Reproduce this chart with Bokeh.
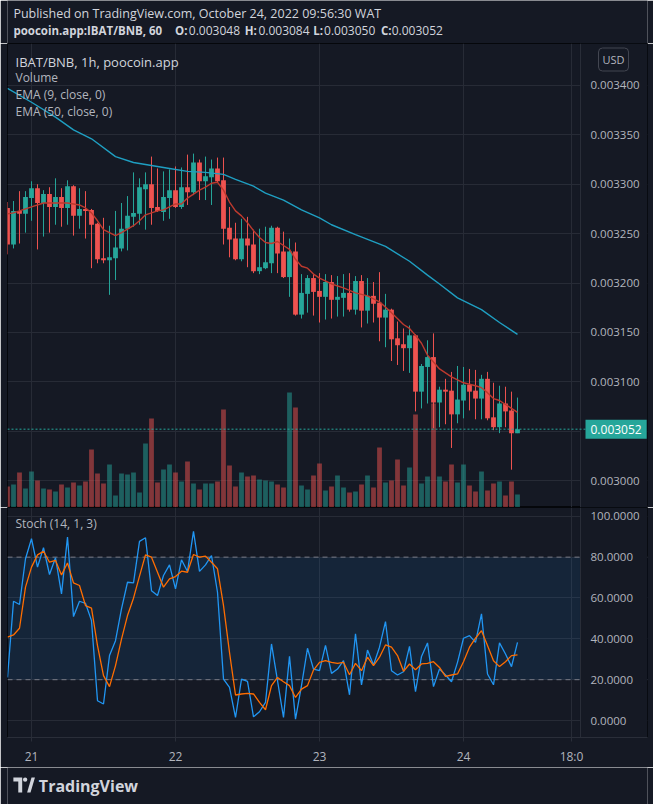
from bokeh.plotting import figure
from bokeh.models import (Range1d, FixedTicker, NumeralTickFormatter, Label, Span,
                          BoxAnnotation, ColumnDataSource)
from bokeh.layouts import column
from bokeh.embed import file_html
from bokeh.resources import INLINE
from bokeh.core.properties import value

FONT = "Open Sans"
BG = "#151924"
TXT = "#b2b5be"
TXT_HI = "#d1d4dc"
GRID_C = "#272b36"
SEP_C = "#2a2e39"
BORDER_C = "#05070b"
UP = "#26a69a"
DOWN = "#ef5350"
EMA9_C = "#bd3a2e"
EMA50_C = "#1f9fc2"
K_C = "#2196f3"
D_C = "#ff6d00"

# ---------------- data (hours since 21 Oct 2022 00:00) ----------------
hours = list(range(-4, 82))

opens = [0.003276, 0.003239, 0.003273, 0.003270, 0.003286, 0.003296, 0.003281, 0.003290, 0.003277, 0.003287,
         0.003276, 0.003298, 0.003268, 0.003275, 0.003274, 0.003260, 0.003225, 0.003223, 0.003225, 0.003235,
         0.003255, 0.003267, 0.003270, 0.003295, 0.003300, 0.003277, 0.003272, 0.003286, 0.003294, 0.003277,
         0.003297, 0.003292, 0.003322, 0.003303, 0.003307, 0.003316, 0.003304, 0.003256, 0.003245, 0.003224,
         0.003245, 0.003239, 0.003212, 0.003215, 0.003220, 0.003256, 0.003232, 0.003206, 0.003232, 0.003168,
         0.003189, 0.003205, 0.003192, 0.003186, 0.003201, 0.003183, 0.003185, 0.003190, 0.003173, 0.003202,
         0.003172, 0.003187, 0.003180, 0.003165, 0.003173, 0.003144, 0.003138, 0.003134, 0.003147, 0.003090,
         0.003115, 0.003125, 0.003079, 0.003092, 0.003091, 0.003067, 0.003081, 0.003097, 0.003091, 0.003083,
         0.003103, 0.003064, 0.003054, 0.003078, 0.003071, 0.003048]
highs = [0.003282, 0.003283, 0.003293, 0.003293, 0.003303, 0.003300, 0.003294, 0.003297, 0.003306, 0.003296,
         0.003304, 0.003299, 0.003296, 0.003293, 0.003275, 0.003261, 0.003266, 0.003258, 0.003273, 0.003281,
         0.003288, 0.003312, 0.003306, 0.003312, 0.003328, 0.003316, 0.003313, 0.003315, 0.003318, 0.003317,
         0.003330, 0.003331, 0.003325, 0.003328, 0.003325, 0.003327, 0.003327, 0.003277, 0.003261, 0.003265,
         0.003267, 0.003254, 0.003255, 0.003257, 0.003258, 0.003257, 0.003252, 0.003245, 0.003241, 0.003209,
         0.003208, 0.003209, 0.003210, 0.003209, 0.003208, 0.003207, 0.003209, 0.003210, 0.003207, 0.003208,
         0.003205, 0.003201, 0.003211, 0.003189, 0.003174, 0.003161, 0.003154, 0.003157, 0.003148, 0.003118,
         0.003142, 0.003149, 0.003095, 0.003103, 0.003110, 0.003116, 0.003115, 0.003113, 0.003112, 0.003107,
         0.003110, 0.003099, 0.003096, 0.003095, 0.003090, 0.003084]
lows = [0.003229, 0.003235, 0.003240, 0.003251, 0.003263, 0.003234, 0.003247, 0.003251, 0.003259, 0.003257,
        0.003259, 0.003248, 0.003255, 0.003245, 0.003215, 0.003220, 0.003220, 0.003188, 0.003203, 0.003232,
        0.003233, 0.003257, 0.003259, 0.003254, 0.003259, 0.003272, 0.003263, 0.003265, 0.003276, 0.003275,
        0.003279, 0.003289, 0.003284, 0.003284, 0.003279, 0.003302, 0.003239, 0.003226, 0.003223, 0.003222,
        0.003216, 0.003210, 0.003209, 0.003214, 0.003210, 0.003210, 0.003205, 0.003186, 0.003167, 0.003164,
        0.003170, 0.003167, 0.003160, 0.003163, 0.003164, 0.003166, 0.003166, 0.003171, 0.003168, 0.003155,
        0.003159, 0.003160, 0.003141, 0.003135, 0.003121, 0.003117, 0.003111, 0.003109, 0.003070, 0.003073,
        0.003078, 0.003053, 0.003054, 0.003057, 0.003033, 0.003058, 0.003063, 0.003071, 0.003062, 0.003062,
        0.003061, 0.003051, 0.003048, 0.003054, 0.003011, 0.003048]
closes = [0.003239, 0.003273, 0.003270, 0.003287, 0.003296, 0.003281, 0.003290, 0.003277, 0.003287, 0.003276,
          0.003298, 0.003268, 0.003275, 0.003273, 0.003259, 0.003224, 0.003223, 0.003226, 0.003236, 0.003255,
          0.003268, 0.003271, 0.003297, 0.003300, 0.003276, 0.003273, 0.003287, 0.003294, 0.003277, 0.003297,
          0.003292, 0.003322, 0.003303, 0.003308, 0.003316, 0.003303, 0.003255, 0.003244, 0.003224, 0.003245,
          0.003238, 0.003212, 0.003216, 0.003221, 0.003256, 0.003230, 0.003206, 0.003232, 0.003168, 0.003190,
          0.003205, 0.003191, 0.003186, 0.003201, 0.003183, 0.003186, 0.003190, 0.003173, 0.003202, 0.003172,
          0.003187, 0.003179, 0.003165, 0.003173, 0.003143, 0.003137, 0.003134, 0.003147, 0.003090, 0.003116,
          0.003125, 0.003079, 0.003092, 0.003090, 0.003067, 0.003082, 0.003097, 0.003090, 0.003083, 0.003103,
          0.003063, 0.003054, 0.003078, 0.003070, 0.003048, 0.003052]
volumes = [21, 23, 35, 19, 36, 27, 19, 18, 16, 23,
           20, 25, 22, 26, 58, 34, 24, 43, 12, 34,
           33, 35, 15, 64, 89, 25, 38, 43, 35, 26,
           46, 24, 18, 24, 24, 26, 98, 42, 21, 35,
           31, 32, 28, 27, 26, 23, 20, 115, 100, 22,
           18, 32, 44, 17, 21, 32, 20, 15, 16, 23,
           32, 20, 60, 25, 27, 48, 22, 40, 93, 24,
           31, 104, 31, 26, 43, 25, 43, 22, 16, 36,
           17, 24, 26, 12, 26, 13]

ema9_h = [-4, -3, 0, 2, 6, 8, 9, 10, 11, 12, 14, 15, 17, 18, 19, 21, 22, 23, 24, 25,
          26, 27, 28, 29, 30, 31, 32, 33, 34, 35, 36, 37, 38, 39, 40, 41, 42, 43, 44, 45,
          46, 47, 48, 50, 52, 54, 56, 58, 60, 62, 63, 64, 65, 66, 67, 68, 70, 72, 74, 75,
          76, 77, 78, 79, 80, 81]
ema9 = [0.003270, 0.003271, 0.003277, 0.003281, 0.003281, 0.003279, 0.003276, 0.003271, 0.003263, 0.003254,
        0.003248, 0.003251, 0.003258, 0.003263, 0.003269, 0.003273, 0.003274, 0.003277, 0.003280, 0.003280,
        0.003286, 0.003290, 0.003294, 0.003297, 0.003301, 0.003302, 0.003294, 0.003282, 0.003273, 0.003268,
        0.003261, 0.003253, 0.003246, 0.003241, 0.003240, 0.003242, 0.003238, 0.003234, 0.003224, 0.003217,
        0.003215, 0.003209, 0.003205, 0.003199, 0.003195, 0.003190, 0.003187, 0.003181, 0.003170, 0.003158,
        0.003154, 0.003147, 0.003139, 0.003127, 0.003120, 0.003113, 0.003105, 0.003099, 0.003096, 0.003094,
        0.003089, 0.003083, 0.003081, 0.003077, 0.003073, 0.003069]
ema50_h = [-4, 0, 4, 7, 10, 14, 17, 20, 23, 26, 29, 32, 34, 37, 39, 42, 45, 48, 50, 54,
           59, 63, 66, 68, 71, 75, 78, 81]
ema50 = [0.003397, 0.003383, 0.003368, 0.003355, 0.003346, 0.003328, 0.003322, 0.003319, 0.003316, 0.003313,
         0.003312, 0.003310, 0.003305, 0.003298, 0.003291, 0.003284, 0.003274, 0.003266, 0.003259, 0.003249,
         0.003237, 0.003222, 0.003208, 0.003199, 0.003185, 0.003173, 0.003160, 0.003148]

stoch_k = [21.1, 58.4, 56.8, 79.2, 89.0, 75.1, 84.6, 71.5, 79.7, 62.0,
           89.8, 50.9, 58.4, 57.4, 48.9, 9.7, 8.1, 31.8, 39.1, 54.7,
           67.7, 67.4, 87.7, 89.5, 63.6, 61.2, 71.0, 76.2, 64.5, 78.7,
           73.0, 92.6, 73.0, 76.2, 80.8, 62.8, 20.3, 16.2, 1.5, 20.3,
           19.2, 1.8, 4.3, 8.9, 37.5, 19.5, 1.5, 31.4, 0.7, 17.1,
           35.4, 25.2, 24.4, 36.8, 23.1, 25.2, 29.3, 12.6, 42.4, 17.5,
           34.5, 27.2, 35.9, 48.4, 24.4, 22.3, 23.9, 36.3, 14.1, 31.4,
           38.0, 16.6, 25.2, 22.3, 19.0, 28.5, 40.3, 41.6, 38.3, 52.2,
           22.8, 17.5, 38.0, 32.6, 26.4, 38.3]
stoch_d = [40.8, 41.9, 45.2, 65.3, 75.1, 81.1, 82.9, 77.5, 78.4, 71.3,
           77.1, 67.4, 66.1, 56.3, 55.0, 36.7, 22.0, 16.6, 26.9, 39.9,
           51.4, 59.9, 70.7, 81.1, 80.0, 72.6, 65.3, 69.4, 70.5, 73.1,
           72.6, 81.3, 80.0, 80.5, 77.5, 74.3, 56.3, 33.4, 12.5, 13.0,
           13.3, 13.0, 8.9, 5.3, 17.1, 21.1, 19.0, 17.1, 11.3, 15.4,
           17.1, 24.7, 28.5, 29.3, 28.5, 28.0, 28.5, 22.4, 28.0, 24.4,
           31.0, 26.9, 31.0, 37.0, 35.9, 31.8, 24.1, 27.7, 24.9, 27.7,
           28.0, 28.8, 26.0, 21.6, 22.3, 22.8, 28.8, 35.9, 40.3, 44.0,
           36.7, 29.3, 26.4, 28.8, 31.8, 32.1]
stoch_bands = [20, 80]

price_grid_ticks = [0.0030, 0.00305, 0.0031, 0.00315, 0.0032, 0.00325, 0.0033, 0.00335, 0.0034]
price_label_ticks = [0.0030, 0.0031, 0.00315, 0.0032, 0.00325, 0.0033, 0.00335, 0.0034]
stoch_ticks = [0, 20, 40, 60, 80, 100]
x_ticks = [0, 24, 48, 72, 90]
x_labels = ["21", "22", "23", "24", "18:0"]

header_1 = "Published on TradingView.com, October 24, 2022 09:56:30 WAT"
symbol_line = "poocoin.app:IBAT/BNB, 60"
ohlc_keys = ["O:", "H:", "L:", "C:"]
ohlc_vals = ["0.003048", "0.003084", "0.003050", "0.003052"]
legend_lines = ["IBAT/BNB, 1h, poocoin.app", "Volume", "EMA (9, close, 0)", "EMA (50, close, 0)"]

# ---------------- layout constants ----------------
W = 653
HEAD_H = 43
PRICE_H = 464
STOCH_H = 260
FOOT_H = 37
VOL_TOP = 464
LEFT_B = 7
RIGHT_B = 6
X_START, X_END = -4.0, 102.667   # plot frame spans the price-scale strip as well
X_SCALE_EDGE = 91.5              # where the price-scale strip begins

x_rng = Range1d(X_START, X_END)


def pane(height, y_range, bottom):
    f = figure(width=W, height=height, x_range=x_rng, y_range=y_range,
               output_backend="svg", toolbar_location=None,
               x_axis_location="below" if bottom else None, y_axis_location="right",
               min_border_left=LEFT_B, min_border_right=RIGHT_B,
               min_border_top=0, min_border_bottom=30 if bottom else 0)
    f.background_fill_color = BG
    f.border_fill_color = BG
    f.outline_line_color = BORDER_C
    f.outline_line_width = 1
    f.yaxis.major_label_text_font = FONT
    f.yaxis.major_label_text_font_size = "11.5px"
    f.yaxis.major_label_text_color = TXT
    f.yaxis.major_tick_line_color = None
    f.yaxis.minor_tick_line_color = None
    f.yaxis.axis_line_color = None
    f.yaxis.major_label_standoff = -63
    f.xgrid.ticker = FixedTicker(ticks=x_ticks)
    f.xgrid.grid_line_color = GRID_C
    f.ygrid.grid_line_color = GRID_C
    return f


def mask_scale_strip(f):
    f.add_layout(BoxAnnotation(left=X_SCALE_EDGE, fill_color=BG, fill_alpha=1.0,
                               line_color=None, level="underlay"))
    f.add_layout(Span(location=X_SCALE_EDGE, dimension="height", line_color=SEP_C,
                      line_width=1, level="underlay"))


# ---------------- header ----------------
head = figure(width=W, height=HEAD_H, x_range=Range1d(0, W), y_range=Range1d(HEAD_H, 0),
              output_backend="svg", toolbar_location=None, x_axis_location=None, y_axis_location=None,
              min_border=0)
head.background_fill_color = BG
head.border_fill_color = BG
head.outline_line_color = None
head.xgrid.visible = False
head.ygrid.visible = False
head.add_layout(Label(x=6, y=13, text=header_1, text_font=FONT, text_font_size="12.5px",
                      text_color=TXT_HI, text_baseline="middle"))
head.add_layout(Label(x=6, y=30, text=symbol_line, text_font=FONT, text_font_size="11.5px",
                      text_font_style="bold", text_color=TXT_HI, text_baseline="middle"))
key_x = [171, 242, 312, 381]
val_x = [185, 256, 323, 392]
for k, kx, v, vx in zip(ohlc_keys, key_x, ohlc_vals, val_x):
    head.add_layout(Label(x=kx, y=30, text=k, text_font=FONT, text_font_size="11.5px",
                          text_font_style="bold", text_color=TXT_HI, text_baseline="middle"))
    head.add_layout(Label(x=vx, y=30, text=v, text_font=FONT, text_font_size="12px",
                          text_color=TXT_HI, text_baseline="middle"))

# ---------------- price pane ----------------
colors = [UP if c >= o else DOWN for o, c in zip(opens, closes)]
src = ColumnDataSource(dict(
    h=hours, o=opens, hi=highs, lo=lows, c=closes,
    top=[max(o, c) for o, c in zip(opens, closes)],
    bot=[min(o, c) for o, c in zip(opens, closes)],
    col=colors, vol=volumes))

price = pane(PRICE_H, Range1d(0.0029727, 0.0034425), bottom=False)
price.extra_y_ranges = {"vol": Range1d(0, VOL_TOP)}
price.yaxis.ticker = FixedTicker(ticks=price_label_ticks)
price.yaxis.formatter = NumeralTickFormatter(format="0.000000")
price.ygrid.ticker = FixedTicker(ticks=price_grid_ticks)
mask_scale_strip(price)

price.vbar(x="h", width=0.8, top="vol", bottom=0, source=src, fill_color="col",
           fill_alpha=0.5, line_color=None, y_range_name="vol")
price.segment(x0="h", y0="lo", x1="h", y1="hi", source=src, line_color="col", line_width=1)
price.vbar(x="h", width=0.8, top="top", bottom="bot", source=src, fill_color="col", line_color=None)
price.line(ema9_h, ema9, line_color=EMA9_C, line_width=1.4)
price.line(ema50_h, ema50, line_color=EMA50_C, line_width=1.4)

price.add_layout(Span(location=closes[-1], dimension="width", line_color=UP,
                      line_dash="2 2", line_width=1))
price.add_layout(Label(x=580 - LEFT_B + 5, y=closes[-1], x_units="screen", y_units="data",
                       text=ohlc_vals[3], text_font=FONT, text_font_size="12px",
                       text_color="#ffffff", text_baseline="middle",
                       background_fill_color=UP, padding=5))
price.add_layout(Label(x=596 - LEFT_B + 2, y=PRICE_H - 16, x_units="screen", y_units="screen",
                       text="USD", text_font=FONT, text_font_size="11px", text_color=TXT,
                       text_baseline="middle", border_line_color="#434651", border_line_width=1,
                       border_radius=4, padding=4))
leg_y = [18, 34, 51, 68]
for i, (t, yy) in enumerate(zip(legend_lines, leg_y)):
    price.add_layout(Label(x=8, y=PRICE_H - yy, x_units="screen", y_units="screen", text=t,
                           text_font=FONT, text_font_size="13px" if i == 0 else "12px",
                           text_color=TXT_HI if i == 0 else TXT, text_baseline="middle"))

# ---------------- stochastic pane ----------------
stoch = pane(STOCH_H, Range1d(-8.3, 104.3), bottom=True)
stoch.add_layout(BoxAnnotation(bottom=stoch_bands[0], top=stoch_bands[1], fill_color=K_C,
                               fill_alpha=0.1, line_color=None, level="underlay"))
for lv in stoch_bands:
    stoch.add_layout(Span(location=lv, dimension="width", line_color="#787b86",
                          line_dash="5 4", line_width=1, level="underlay"))
mask_scale_strip(stoch)
stoch.yaxis.ticker = FixedTicker(ticks=stoch_ticks)
stoch.yaxis.formatter = NumeralTickFormatter(format="0.0000")
stoch.ygrid.ticker = FixedTicker(ticks=stoch_ticks)
stoch.xaxis.ticker = FixedTicker(ticks=x_ticks)
stoch.xaxis.major_label_overrides = {t: l for t, l in zip(x_ticks, x_labels)}
stoch.xaxis.major_label_text_font = FONT
stoch.xaxis.major_label_text_font_size = "12px"
stoch.xaxis.major_label_text_color = TXT
stoch.xaxis.minor_tick_line_color = None
stoch.xaxis.axis_line_color = SEP_C
stoch.xaxis.major_tick_line_color = SEP_C
stoch.xaxis.major_tick_in = 0
stoch.xaxis.major_tick_out = 4
stoch.xaxis.major_label_standoff = 6
stoch.line(hours, stoch_k, line_color=K_C, line_width=1.3)
stoch.line(hours, stoch_d, line_color=D_C, line_width=1.3)
stoch.add_layout(Label(x=8, y=230 - 16, x_units="screen", y_units="screen", text="Stoch (14, 1, 3)",
                       text_font=FONT, text_font_size="12px", text_color=TXT, text_baseline="middle"))

# ---------------- footer (logo) ----------------
foot = figure(width=W, height=FOOT_H, x_range=Range1d(0, W), y_range=Range1d(FOOT_H, 0),
              output_backend="svg", toolbar_location=None, x_axis_location=None, y_axis_location=None,
              min_border=0)
foot.background_fill_color = BG
foot.border_fill_color = BG
foot.outline_line_color = None
foot.xgrid.visible = False
foot.ygrid.visible = False
foot.patches(xs=[[6, 15, 15, 11, 11, 6], [20, 24.5, 28, 23.5]],
             ys=[[10, 10, 25, 25, 14, 14], [25, 10, 10, 25]],
             fill_color=TXT_HI, line_color=None)
foot.circle(x=[18], y=[12.2], radius=2.2, fill_color=TXT_HI, line_color=None)
foot.text(x=[32], y=[18], text=["TradingView"], text_font=value(FONT), text_font_style="bold",
          text_font_size="16px", text_color=TXT_HI, text_baseline="middle")

layout = column(head, price, stoch, foot, spacing=0)
html = file_html(layout, INLINE, title="IBAT/BNB")
html = html.replace("<body>", '<body style="background-color:#151924;">', 1)
open("out.html", "w").write(html)
